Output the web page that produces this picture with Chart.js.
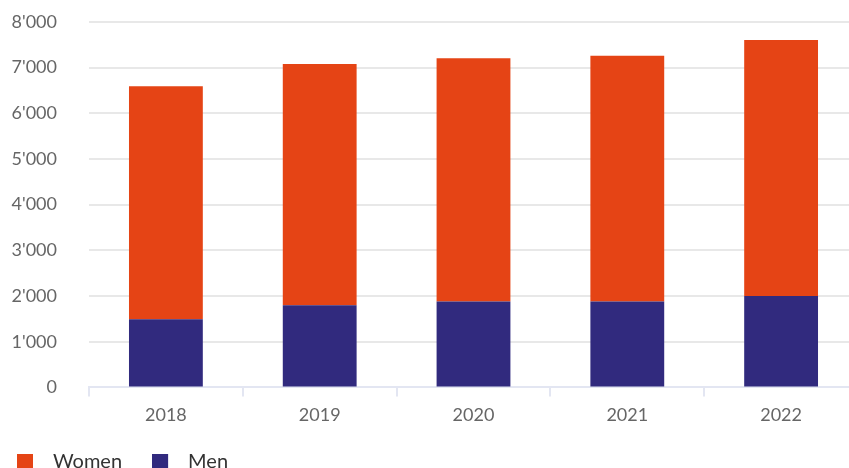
<!DOCTYPE html>
<html>
<head>
<meta charset="utf-8">
<script src="https://cdn.jsdelivr.net/npm/chart.js@4"></script>
<style>
  html, body { margin: 0; padding: 0; overflow: hidden; background: #fff; }
  #box { position: absolute; left: 0; top: -21px; width: 862px; height: 503px; }
</style>
</head>
<body>
<div id="box"><canvas id="miGrafica"></canvas></div>
<script>
var anios = ['2018', '2019', '2020', '2021', '2022']
var hombres = [1490, 1800, 1880, 1880, 2000]
var mujeres = [5100, 5275, 5325, 5375, 5600]
var ticksY = [0, 1000, 2000, 3000, 4000, 5000, 6000, 7000, 8000]

var colorMujeres = '#e54415'
var colorHombres = '#312a7e'
var fuente = 'Lato, "DejaVu Sans", sans-serif'

// cuadrito de leyenda con hueco a la derecha para separar el texto
function cuadrito(color) {
    var c = document.createElement('canvas')
    c.width = 26
    c.height = 16
    var ctx = c.getContext('2d')
    ctx.fillStyle = color
    ctx.fillRect(0, 0, 16, 16)
    return c
}

function separador(v) {
    return String(v).replace(/\B(?=(\d{3})+(?!\d))/g, "'")
}

var graf = new Chart('miGrafica', {
    type: 'bar',
    data: {
        labels: anios,
        datasets: [
            { label: 'Men', data: hombres, backgroundColor: colorHombres, pointStyle: cuadrito(colorHombres) },
            { label: 'Women', data: mujeres, backgroundColor: colorMujeres, pointStyle: cuadrito(colorMujeres) }
        ]
    },
    options: {
        animation: false,
        responsive: true,
        maintainAspectRatio: false,
        layout: { padding: { left: -13, right: 4, top: 0, bottom: 0 } },
        datasets: { bar: { barPercentage: 0.48, categoryPercentage: 1 } },
        plugins: {
            tooltip: { enabled: false },
            legend: {
                position: 'bottom',
                align: 'start',
                reverse: true,
                labels: {
                    usePointStyle: true,
                    pointStyleWidth: 26,
                    boxHeight: 16,
                    padding: 30,
                    color: '#333',
                    font: { family: fuente, size: 20 }
                }
            }
        },
        scales: {
            x: {
                stacked: true,
                afterFit: function (scale) { scale.height -= 12 },
                grid: { drawOnChartArea: false, offset: true, tickLength: 9, color: '#e3e6f2', lineWidth: 2 },
                border: { color: '#e3e6f2', width: 2 },
                ticks: { color: '#666', padding: 8, font: { family: fuente, size: 18 } }
            },
            y: {
                stacked: true,
                min: 0,
                max: 8000,
                afterBuildTicks: function (scale) {
                    scale.ticks = ticksY.map(function (v) { return { value: v } })
                },
                afterFit: function (scale) { scale.width = 102 },
                grid: { drawTicks: false, color: '#e8e8e8', lineWidth: 2 },
                border: { display: false },
                ticks: {
                    color: '#666',
                    padding: 32,
                    font: { family: fuente, size: 18 },
                    callback: function (v) { return separador(v) }
                }
            }
        }
    }
})
</script>
</body>
</html>
